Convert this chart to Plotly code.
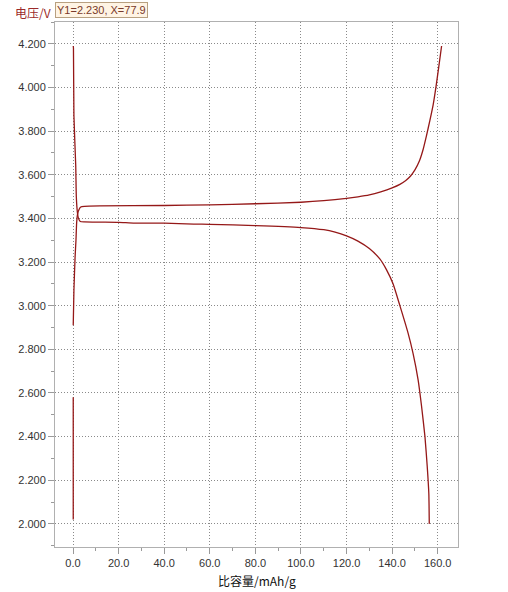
import plotly.graph_objects as go

# Charge curve (upper)
charge_x = [0.1, 0.4, 0.9, 1.3, 1.6, 2.0, 2.6, 3.4, 5, 11.8, 40, 60, 80, 100, 110, 120, 125, 130,
            135, 140, 143.4, 146, 148, 150, 152, 153.5, 155, 156.6, 158, 159.2, 160.4, 161.7]
charge_v = [2.91, 3.07, 3.22, 3.30, 3.38, 3.42, 3.44, 3.452, 3.455, 3.457, 3.459, 3.462, 3.467, 3.474,
            3.481, 3.492, 3.499, 3.508, 3.522, 3.540, 3.556, 3.574, 3.593, 3.622, 3.664, 3.712, 3.776,
            3.85, 3.92, 4.0, 4.09, 4.19]

# Discharge curve (lower)
discharge_x = [0.1, 0.2, 0.4, 1.2, 1.45, 1.9, 2.4, 3.2, 5, 12, 20, 27, 40, 53, 60, 80, 100, 110,
               115, 120, 125, 130, 134.6, 137.5, 140.4, 143.4, 147, 149.2, 151.4, 152.9, 154.4,
               155.4, 156.1, 156.3]
discharge_v = [4.19, 4.18, 3.87, 3.64, 3.50, 3.43, 3.40, 3.386, 3.384, 3.383, 3.382, 3.378, 3.378,
               3.374, 3.373, 3.367, 3.358, 3.348, 3.337, 3.320, 3.296, 3.262, 3.214, 3.165, 3.10, 3.0,
               2.874, 2.78, 2.66, 2.54, 2.40, 2.263, 2.14, 2.0]

# Short rest segment at zero capacity
rest_x = [0.1, 0.1]
rest_v = [2.02, 2.58]

x_ticks = [0, 20, 40, 60, 80, 100, 120, 140, 160]
y_ticks = [2.0, 2.2, 2.4, 2.6, 2.8, 3.0, 3.2, 3.4, 3.6, 3.8, 4.0, 4.2]

line_color = "#951818"

fig = go.Figure()
for xs, ys in [(charge_x, charge_v), (discharge_x, discharge_v), (rest_x, rest_v)]:
    fig.add_trace(go.Scatter(x=xs, y=ys, mode="lines",
                             line=dict(color=line_color, width=1.3, shape="spline", smoothing=0.5),
                             showlegend=False, hoverinfo="skip"))

axis_common = dict(
    showline=True, linecolor="#b0b0b0", linewidth=1, mirror=True,
    showgrid=True, gridcolor="#8a8a8a", gridwidth=1, griddash="1px,2px",
    zeroline=False, ticks="outside", ticklen=6, tickcolor="#9a9a9a",
    tickfont=dict(family="Liberation Sans, Arial, sans-serif", size=11, color="#333333"),
)

fig.update_layout(
    width=508, height=592,
    margin=dict(l=55, r=50, t=22, b=45),
    paper_bgcolor="white", plot_bgcolor="white",
    xaxis=dict(range=[-7.9, 168.9], tickvals=x_ticks,
               ticktext=[f"{v:.1f}" for v in x_ticks],
               minor=dict(dtick=10, tick0=0, ticks="outside", ticklen=3, tickcolor="#9a9a9a", showgrid=False),
               **axis_common),
    yaxis=dict(range=[1.894, 4.30], tickvals=y_ticks,
               ticktext=[f"{v:.3f}" for v in y_ticks],
               minor=dict(dtick=0.1, tick0=2.0, ticks="outside", ticklen=3, tickcolor="#9a9a9a", showgrid=False),
               **axis_common),
)

fig.add_annotation(text="电压/V", xref="paper", yref="paper", x=-0.105, y=1.0, yshift=10,
                   xanchor="left", yanchor="middle", showarrow=False,
                   font=dict(family="Noto Sans CJK SC, sans-serif", size=12, color="#9B2A2A"))
fig.add_annotation(text="Y1=2.230, X=77.9", xref="paper", yref="paper", x=0.0, y=1.0, yshift=12,
                   xanchor="left", yanchor="middle", showarrow=False,
                   bgcolor="#FFF4E4", bordercolor="#B8A080", borderwidth=1, borderpad=1,
                   font=dict(family="Liberation Sans, Arial, sans-serif", size=11, color="#7a3a2a"))
fig.add_annotation(text="比容量/mAh/g", xref="paper", yref="paper", x=0.5, y=0, yshift=-33,
                   xanchor="center", yanchor="middle", showarrow=False,
                   font=dict(family="Noto Sans CJK SC, sans-serif", size=12, color="#111111"))

fig.write_html("out.html", config={"displayModeBar": False},
               post_script="document.body.style.margin='0';document.body.style.overflow='hidden';")
